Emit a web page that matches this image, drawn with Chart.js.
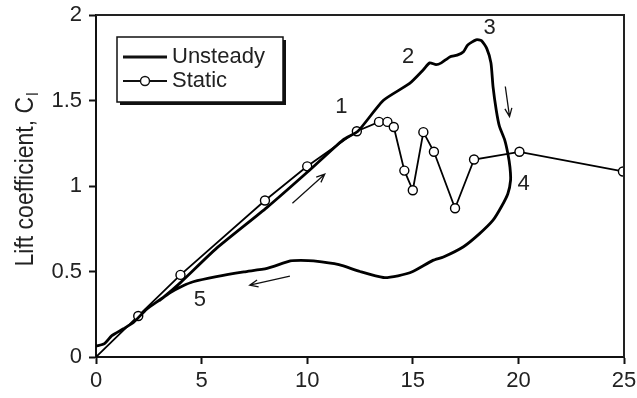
<!DOCTYPE html>
<html>
<head>
<meta charset="utf-8">
<script src="https://cdn.jsdelivr.net/npm/chart.js@4"></script>
<style>
  html, body { margin: 0; padding: 0; background: #fff; }
  canvas { display: block; }
</style>
</head>
<body>
<canvas id="myChart" width="637" height="398"></canvas>
<script>
// angle of attack (deg) and lift coefficient
const unsteadyAlpha = [0, 0.4, 0.75, 1.3, 1.8, 2.4, 3.2, 4, 5.7, 8.1, 10, 11.7, 12.4, 13.6, 14.85, 15.5, 15.8, 16.1, 16.35, 16.75, 17.1, 17.4, 17.6, 18.0, 18.25, 18.5, 18.7, 18.8, 18.95, 19.1, 19.35, 19.5, 19.6, 19.63, 19.5, 19.2, 18.8, 18.15, 17.4, 16.45, 15.95, 15.0, 14.3, 13.6, 12.5, 11.5, 10.3, 9.7, 9.2, 8.1, 7.0, 5.7, 4.6, 4.1, 3.5, 3.0];
const unsteadyCl = [0.063, 0.078, 0.125, 0.165, 0.205, 0.28, 0.35, 0.435, 0.635, 0.875, 1.08, 1.27, 1.32, 1.5, 1.6, 1.68, 1.72, 1.71, 1.72, 1.755, 1.765, 1.785, 1.825, 1.855, 1.85, 1.805, 1.72, 1.58, 1.445, 1.35, 1.27, 1.19, 1.11, 1.035, 0.955, 0.88, 0.8, 0.72, 0.645, 0.585, 0.565, 0.5, 0.475, 0.465, 0.5, 0.54, 0.562, 0.565, 0.562, 0.518, 0.498, 0.47, 0.44, 0.415, 0.375, 0.33];

const staticAlpha = [0, 2, 4, 8, 10, 12.35, 13.4, 13.8, 14.1, 14.6, 15.0, 15.5, 16.0, 17.0, 17.9, 20.05, 24.95];
const staticCl = [0, 0.24, 0.48, 0.915, 1.115, 1.32, 1.375, 1.375, 1.345, 1.09, 0.975, 1.315, 1.2, 0.87, 1.155, 1.2, 1.085];

const xTicks = [0, 5, 10, 15, 20, 25];
const yTicks = [0, 0.5, 1, 1.5, 2];

// numbered labels and arrows, in data units
const noteText = ["1", "2", "3", "4", "5"];
const noteX = [11.62, 14.78, 18.64, 20.25, 4.92];
const noteY = [1.465, 1.754, 1.924, 1.012, 0.332];
const arrowFrom = [[9.3, 0.899], [19.38, 1.582], [9.18, 0.473]];
const arrowTo = [[10.83, 1.069], [19.58, 1.406], [7.28, 0.42]];

const FONT = "'Liberation Sans', Arial, sans-serif";

function toPoints(xs, ys) {
  return xs.map((x, i) => ({ x: x, y: ys[i] }));
}

const extras = {
  id: "extras",
  afterDraw(chart) {
    const ctx = chart.ctx;
    const a = chart.chartArea;
    const sx = chart.scales.x;
    const sy = chart.scales.y;
    ctx.save();

    // frame on top and right
    ctx.strokeStyle = "#222";
    ctx.lineWidth = 2;
    ctx.beginPath();
    ctx.moveTo(a.left, a.top);
    ctx.lineTo(a.right, a.top);
    ctx.lineTo(a.right, a.bottom);
    ctx.stroke();

    // numbers
    ctx.fillStyle = "#222";
    ctx.font = "22px " + FONT;
    ctx.textAlign = "center";
    ctx.textBaseline = "middle";
    noteText.forEach((t, i) => {
      ctx.fillText(t, sx.getPixelForValue(noteX[i]), sy.getPixelForValue(noteY[i]));
    });

    // arrows
    ctx.strokeStyle = "#111";
    ctx.lineWidth = 1.3;
    arrowFrom.forEach((f, i) => {
      const x1 = sx.getPixelForValue(f[0]), y1 = sy.getPixelForValue(f[1]);
      const x2 = sx.getPixelForValue(arrowTo[i][0]), y2 = sy.getPixelForValue(arrowTo[i][1]);
      const ang = Math.atan2(y2 - y1, x2 - x1);
      ctx.beginPath();
      ctx.moveTo(x1, y1);
      ctx.lineTo(x2, y2);
      ctx.moveTo(x2 - 9 * Math.cos(ang - 0.4), y2 - 9 * Math.sin(ang - 0.4));
      ctx.lineTo(x2, y2);
      ctx.lineTo(x2 - 9 * Math.cos(ang + 0.4), y2 - 9 * Math.sin(ang + 0.4));
      ctx.stroke();
    });

    // legend box with shadow
    ctx.fillStyle = "#111";
    ctx.fillRect(120, 40, 166, 65);
    ctx.fillStyle = "#fff";
    ctx.fillRect(117, 37, 166, 65);
    ctx.strokeStyle = "#111";
    ctx.lineWidth = 1.5;
    ctx.strokeRect(117, 37, 166, 65);

    const ds = chart.data.datasets;
    ctx.lineWidth = 3;
    ctx.beginPath();
    ctx.moveTo(123, 57);
    ctx.lineTo(167, 57);
    ctx.stroke();
    ctx.lineWidth = 1.8;
    ctx.beginPath();
    ctx.moveTo(123, 81);
    ctx.lineTo(167, 81);
    ctx.stroke();
    ctx.beginPath();
    ctx.arc(145, 81, 4.5, 0, Math.PI * 2);
    ctx.fillStyle = "#fff";
    ctx.fill();
    ctx.lineWidth = 1.4;
    ctx.stroke();

    ctx.fillStyle = "#222";
    ctx.font = "22px " + FONT;
    ctx.textAlign = "left";
    ctx.fillText(ds[0].label, 172, 57);
    ctx.fillText(ds[1].label, 172, 81);

    // y axis title with subscript (figure is a bit stretched sideways)
    ctx.translate(33, 180);
    ctx.rotate(-Math.PI / 2);
    ctx.scale(1, 1.15);
    ctx.textBaseline = "alphabetic";
    ctx.font = "23px " + FONT;
    const main = "Lift coefficient, C";
    const w = ctx.measureText(main).width;
    ctx.font = "15px " + FONT;
    const ws = ctx.measureText("l").width;
    const start = -(w + ws) / 2;
    ctx.font = "23px " + FONT;
    ctx.fillText(main, start, 0);
    ctx.font = "15px " + FONT;
    ctx.fillText("l", start + w + 1, 4);

    ctx.restore();
  }
};

const myChart = new Chart(document.getElementById("myChart").getContext("2d"), {
  type: "scatter",
  data: {
    datasets: [
      {
        label: "Unsteady",
        data: toPoints(unsteadyAlpha, unsteadyCl),
        showLine: true,
        borderColor: "#000",
        borderWidth: 2.8,
        pointRadius: 0,
        tension: 0.2,
      },
      {
        label: "Static",
        data: toPoints(staticAlpha, staticCl),
        showLine: true,
        borderColor: "#000",
        borderWidth: 1.8,
        backgroundColor: "#fff",
        pointBackgroundColor: "#fff",
        pointBorderColor: "#000",
        pointBorderWidth: 1.4,
        pointRadius: staticAlpha.map((x) => (x === 0 ? 0 : 4.5)),
        tension: 0,
      },
    ],
  },
  options: {
    responsive: false,
    animation: false,
    devicePixelRatio: 1,
    layout: { padding: 0 },
    plugins: { legend: { display: false }, tooltip: { enabled: false } },
    scales: {
      x: {
        type: "linear",
        min: xTicks[0],
        max: xTicks[xTicks.length - 1],
        afterBuildTicks: (s) => { s.ticks = xTicks.map((v) => ({ value: v })); },
        afterFit: (s) => { s.height = 41; s.paddingLeft = 0; s.paddingRight = 13; },
        border: { color: "#111", width: 2 },
        grid: { drawOnChartArea: false, tickLength: 7, tickColor: "#111", tickWidth: 2 },
        ticks: { color: "#222", padding: 4, font: { family: FONT, size: 22 }, callback: (v) => String(v) },
      },
      y: {
        type: "linear",
        min: yTicks[0],
        max: yTicks[yTicks.length - 1],
        afterBuildTicks: (s) => { s.ticks = yTicks.map((v) => ({ value: v })); },
        afterFit: (s) => { s.width = 96; s.paddingTop = 15; s.paddingBottom = 0; },
        border: { color: "#111", width: 2 },
        grid: { drawOnChartArea: false, tickLength: 7, tickColor: "#111", tickWidth: 2 },
        ticks: { color: "#222", padding: 7, font: { family: FONT, size: 22 }, callback: (v) => String(v) },
      },
    },
  },
  plugins: [extras],
});
</script>
</body>
</html>
